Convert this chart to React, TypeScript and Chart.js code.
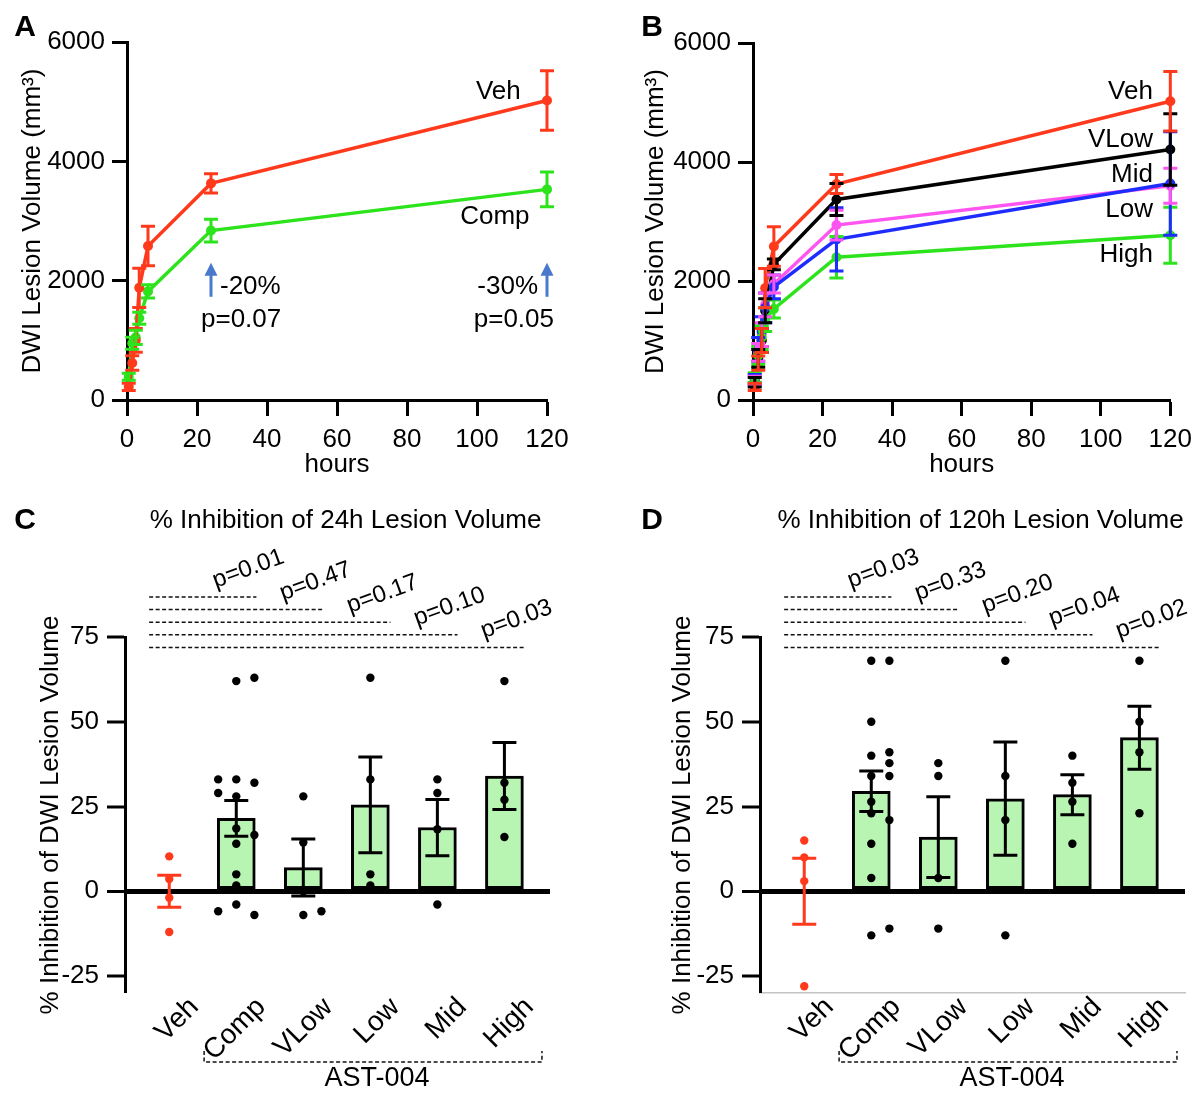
import React, { useEffect, useRef } from 'react';
import { Chart, registerables } from 'chart.js';

Chart.register(...registerables);

const FONT = "'Liberation Sans', Arial, Helvetica, sans-serif";

// ---------- Panels A / B : DWI lesion volume over time ----------
const hours = [0.5, 1.5, 2.5, 3.5, 6, 24, 120];
const vehVolume = [220, 620, 1000, 1880, 2580, 3630, 5020];
const vehSem = [60, 120, 200, 330, 330, 160, 500];
const compVolume = [390, 950, 1050, 1370, 1820, 2840, 3530];
const compSem = [60, 100, 120, 100, 110, 190, 290];
const vlowVolume = [300, 700, 1000, 1500, 2280, 3370, 4210];
const vlowSem = [80, 150, 200, 200, 90, 270, 600];
const midVolume = [320, 800, 1100, 1600, 1950, 2940, 3600];
const midSem = [80, 150, 200, 200, 150, 250, 295];
const lowVolume = [350, 850, 1150, 1550, 1900, 2700, 3640];
const lowSem = [80, 200, 250, 250, 200, 530, 870];
const highVolume = [380, 750, 1050, 1350, 1530, 2400, 2770];
const highSem = [80, 150, 200, 200, 150, 350, 470];

const hourTicks = [0, 20, 40, 60, 80, 100, 120];
const volumeTicks = [0, 2000, 4000, 6000];
const inhibitionTicks = [-25, 0, 25, 50, 75];

// ---------- Panels C / D : % inhibition ----------
const groups = ['Veh', 'Comp', 'VLow', 'Low', 'Mid', 'High'];
const inh24Mean = [0, 21.5, 7, 25.5, 18.8, 34];
const inh24Sem = [4.7, 5.3, 8.4, 14.1, 8.3, 9.9];
const inh24Points = [
  [10.3, 3.6, -1.9, -12],
  [62, 63, 33, 32, 33, 28, 29, 18.5, 16.6, 14, 5, 1.7, -3.9, -7, -5.9],
  [28, 14.4, 0, -7, -5.9],
  [63, 33, 5, 1.7],
  [33, 29, 18.3, -3.9],
  [62, 32, 27, 16],
];
const inh24P = ['p=0.01', 'p=0.47', 'p=0.17', 'p=0.10', 'p=0.03'];

const inh120Mean = [0, 29.5, 16, 27.3, 28.5, 45.3];
const inh120Sem = [9.75, 6, 11.9, 16.7, 5.9, 9.3];
const inh120Points = [
  [15, 10, 3, -28],
  [68, 68, 50, 40, 41, 37.8, 34, 34, 26.4, 23, 21, 14, 3.9, -13, -11],
  [37.8, 34, 3.9, -11],
  [68, 34, 21, -13],
  [40, 32, 26.4, 14],
  [68, 50, 41, 23],
];
const inh120P = ['p=0.03', 'p=0.33', 'p=0.20', 'p=0.04', 'p=0.02'];

// ---------- styles ----------
const RED = '#ff3a1c';
const GREEN = '#2ce31c';
const BLUE = '#1f2cff';
const MAGENTA = '#ff55f0';
const BLACK = '#000000';
const BAR_FILL = '#b9f5b2';
const ARROW = '#4a78cc';
const TXT = 26;

const font = (size: number, weight = 'normal') => ({ family: FONT, size, weight });

function fixWidth(w: number) {
  return (s: any) => {
    s.width = w;
  };
}
function fixHeight(h: number) {
  return (s: any) => {
    s.height = h;
  };
}
function setTicks(values: number[]) {
  return (s: any) => {
    s.ticks = values.map((v) => ({ value: v }));
  };
}
const plain = (v: any) => String(v);

function drawLetter(ctx: CanvasRenderingContext2D, letter: string, x: number, y: number) {
  ctx.save();
  ctx.fillStyle = '#000';
  ctx.font = `bold 30px ${FONT}`;
  ctx.textAlign = 'center';
  ctx.textBaseline = 'middle';
  ctx.fillText(letter, x, y);
  ctx.restore();
}

const lineErrorPlugin = {
  id: 'lineErrors',
  afterDatasetsDraw(chart: any) {
    const { ctx } = chart;
    const x = chart.scales.x;
    const y = chart.scales.y;
    chart.data.datasets.forEach((ds: any) => {
      if (!ds.errors) return;
      ctx.save();
      ctx.strokeStyle = ds.borderColor;
      ctx.lineWidth = 3;
      ds.data.forEach((p: any, i: number) => {
        const e = ds.errors[i];
        const px = x.getPixelForValue(p.x);
        const y1 = y.getPixelForValue(p.y + e);
        const y2 = y.getPixelForValue(p.y - e);
        ctx.beginPath();
        ctx.moveTo(px, y1);
        ctx.lineTo(px, y2);
        ctx.moveTo(px - 7, y1);
        ctx.lineTo(px + 7, y1);
        ctx.moveTo(px - 7, y2);
        ctx.lineTo(px + 7, y2);
        ctx.stroke();
      });
      ctx.restore();
    });
  },
};

function lineSeries(label: string, values: number[], errors: number[], color: string) {
  return {
    label,
    data: hours.map((h, i) => ({ x: h, y: values[i] })),
    errors,
    borderColor: color,
    backgroundColor: color,
    borderWidth: 3.5,
    pointRadius: 5,
    pointBorderWidth: 0,
    clip: false,
  };
}

function lineOptions(area: { left: number; top: number; right: number; bottom: number; w: number; h: number; titlePad: number }) {
  return {
    responsive: true,
    maintainAspectRatio: false,
    animation: false,
    events: [],
    layout: { padding: { left: 0, top: area.top, right: area.w - area.right, bottom: 0 } },
    plugins: { legend: { display: false }, tooltip: { enabled: false } },
    scales: {
      x: {
        type: 'linear',
        min: 0,
        max: 120,
        afterBuildTicks: setTicks(hourTicks),
        afterFit: fixHeight(area.h - area.bottom),
        border: { display: true, width: 3, color: '#000' },
        grid: { display: true, drawOnChartArea: false, drawTicks: true, tickLength: 16, tickWidth: 3, tickColor: '#000' },
        ticks: { color: '#000', font: font(TXT), padding: 8, maxRotation: 0, autoSkip: false, callback: plain },
        title: { display: true, text: 'hours', color: '#000', font: font(TXT), padding: { top: 0, bottom: 0 } },
      },
      y: {
        type: 'linear',
        min: 0,
        max: 6000,
        afterBuildTicks: setTicks(volumeTicks),
        afterFit: fixWidth(area.left),
        border: { display: true, width: 3, color: '#000' },
        grid: { display: true, drawOnChartArea: false, drawTicks: true, tickLength: 15, tickWidth: 3, tickColor: '#000' },
        ticks: { color: '#000', font: font(TXT), padding: 7, autoSkip: false, callback: plain },
        title: {
          display: true,
          text: 'DWI Lesion Volume (mm\u00B3)',
          color: '#000',
          font: font(TXT),
          padding: { top: area.titlePad, bottom: 0 },
        },
      },
    },
  };
}

function configA() {
  const annotate = {
    id: 'annotA',
    afterDraw(chart: any) {
      const { ctx } = chart;
      const x = chart.scales.x;
      const y = chart.scales.y;
      ctx.save();
      ctx.fillStyle = '#000';
      ctx.font = `${TXT}px ${FONT}`;
      ctx.textBaseline = 'middle';
      ctx.textAlign = 'right';
      ctx.fillText('Veh', x.getPixelForValue(112.5), y.getPixelForValue(5160));
      ctx.fillText('Comp', x.getPixelForValue(115), y.getPixelForValue(3070));
      const arrows = [
        { h: 24, pct: '-20%', p: 'p=0.07', side: 'right' },
        { h: 120, pct: '-30%', p: 'p=0.05', side: 'left' },
      ];
      arrows.forEach((a) => {
        const ax = x.getPixelForValue(a.h);
        const yb = y.getPixelForValue(1730);
        const yt = y.getPixelForValue(2300);
        ctx.strokeStyle = ARROW;
        ctx.fillStyle = ARROW;
        ctx.lineWidth = 3;
        ctx.beginPath();
        ctx.moveTo(ax, yb);
        ctx.lineTo(ax, yt + 10);
        ctx.stroke();
        ctx.beginPath();
        ctx.moveTo(ax, yt);
        ctx.lineTo(ax - 6.5, yt + 13);
        ctx.lineTo(ax + 6.5, yt + 13);
        ctx.closePath();
        ctx.fill();
        ctx.fillStyle = '#000';
        if (a.side === 'right') {
          ctx.textAlign = 'left';
          ctx.fillText(a.pct, ax + 9, y.getPixelForValue(1900));
          ctx.fillText(a.p, ax - 10, y.getPixelForValue(1340));
        } else {
          ctx.textAlign = 'right';
          ctx.fillText(a.pct, ax - 9, y.getPixelForValue(1900));
          ctx.fillText(a.p, ax + 7, y.getPixelForValue(1340));
        }
      });
      ctx.restore();
      drawLetter(ctx, 'A', 25, 28);
    },
  };
  return {
    type: 'line',
    data: {
      datasets: [lineSeries('Veh', vehVolume, vehSem, RED), lineSeries('Comp', compVolume, compSem, GREEN)],
    },
    options: lineOptions({ left: 127, top: 42, right: 547, bottom: 400, w: 600, h: 480, titlePad: 17 }),
    plugins: [lineErrorPlugin, annotate],
  };
}

function configB() {
  const labels = [
    { t: 'Veh', v: 5180 },
    { t: 'VLow', v: 4370 },
    { t: 'Mid', v: 3780 },
    { t: 'Low', v: 3190 },
    { t: 'High', v: 2440 },
  ];
  const annotate = {
    id: 'annotB',
    afterDraw(chart: any) {
      const { ctx } = chart;
      const x = chart.scales.x;
      const y = chart.scales.y;
      ctx.save();
      ctx.fillStyle = '#000';
      ctx.font = `${TXT}px ${FONT}`;
      ctx.textBaseline = 'middle';
      ctx.textAlign = 'right';
      labels.forEach((l) => ctx.fillText(l.t, x.getPixelForValue(115), y.getPixelForValue(l.v)));
      ctx.restore();
      drawLetter(ctx, 'B', 52, 28);
    },
  };
  return {
    type: 'line',
    data: {
      datasets: [
        lineSeries('High', highVolume, highSem, GREEN),
        lineSeries('Low', lowVolume, lowSem, BLUE),
        lineSeries('Mid', midVolume, midSem, MAGENTA),
        lineSeries('VLow', vlowVolume, vlowSem, BLACK),
        lineSeries('Veh', vehVolume, vehSem, RED),
      ],
    },
    options: lineOptions({ left: 153, top: 43, right: 575, bottom: 400, w: 600, h: 480, titlePad: 40 }),
    plugins: [lineErrorPlugin, annotate],
  };
}

// simple beeswarm: assign each point to the first free column
function swarmColumns(vals: number[], gap: number): number[] {
  const cols: number[] = [];
  const order = [0, 1, -1, 2, -2];
  vals.forEach((v, k) => {
    let chosen = 0;
    for (const c of order) {
      const clash = vals.slice(0, k).some((w, j) => cols[j] === c && Math.abs(w - v) < gap);
      if (!clash) {
        chosen = c;
        break;
      }
    }
    cols.push(chosen);
  });
  return cols;
}

function inhibitionConfig(o: {
  means: number[];
  sems: number[];
  points: number[][];
  pvals: string[];
  title: string;
  letter: string;
  letterX: number;
  areaLeft: number;
  areaRight: number;
  titlePad: number;
  grayBase: boolean;
}) {
  const W = 600;
  const H = 613;
  const TOP = 157;
  const BOTTOM = 513;
  const colStep = 0.27;
  const vehPts: any[] = [];
  const drugPts: any[] = [];
  o.points.forEach((vals, i) => {
    const cols = swarmColumns(vals, 3.2);
    vals.forEach((v, k) => {
      const pt = { x: i + cols[k] * colStep, y: v };
      if (i === 0) vehPts.push(pt);
      else drugPts.push(pt);
    });
  });

  const annotate = {
    id: 'annotInh',
    afterDatasetsDraw(chart: any) {
      const { ctx } = chart;
      const x = chart.scales.x;
      const y = chart.scales.y;
      ctx.save();
      ctx.lineWidth = 3;
      groups.forEach((g, i) => {
        const color = i === 0 ? RED : '#000';
        const px = x.getPixelForValue(i);
        const y1 = y.getPixelForValue(o.means[i] + o.sems[i]);
        const y2 = y.getPixelForValue(o.means[i] - o.sems[i]);
        ctx.strokeStyle = color;
        ctx.beginPath();
        ctx.moveTo(px, y1);
        ctx.lineTo(px, y2);
        ctx.moveTo(px - 12, y1);
        ctx.lineTo(px + 12, y1);
        ctx.moveTo(px - 12, y2);
        ctx.lineTo(px + 12, y2);
        ctx.stroke();
      });
      ctx.restore();
    },
    afterDraw(chart: any) {
      const { ctx, chartArea } = chart;
      const x = chart.scales.x;
      ctx.save();
      ctx.fillStyle = '#000';
      ctx.strokeStyle = '#111';
      ctx.font = `${TXT}px ${FONT}`;
      ctx.textAlign = 'center';
      ctx.textBaseline = 'middle';
      ctx.fillText(o.title, (chartArea.left + chartArea.right) / 2 + 8, 41);
      o.pvals.forEach((p, k) => {
        const yy = chartArea.top - 40 + 12.6 * k;
        const x0 = x.getPixelForValue(-0.3);
        const x1 = x.getPixelForValue(k + 1 + 0.3);
        ctx.lineWidth = 1.5;
        ctx.setLineDash([4, 2.5]);
        ctx.beginPath();
        ctx.moveTo(x0, yy);
        ctx.lineTo(x1, yy);
        ctx.stroke();
        ctx.setLineDash([]);
        ctx.save();
        ctx.translate(x1 - 8, yy - 28);
        ctx.rotate((-20 * Math.PI) / 180);
        ctx.font = `24px ${FONT}`;
        ctx.textAlign = 'center';
        ctx.textBaseline = 'middle';
        ctx.fillText(p, 0, 0);
        ctx.restore();
      });
      const by = chartArea.bottom + 69;
      const bx0 = x.getPixelForValue(0.52);
      const bx1 = x.getPixelForValue(5.56);
      ctx.lineWidth = 1.5;
      ctx.setLineDash([4, 2.5]);
      ctx.beginPath();
      ctx.moveTo(bx0, by - 11);
      ctx.lineTo(bx0, by);
      ctx.lineTo(bx1, by);
      ctx.lineTo(bx1, by - 11);
      ctx.stroke();
      ctx.setLineDash([]);
      ctx.font = `27px ${FONT}`;
      ctx.textAlign = 'center';
      ctx.textBaseline = 'middle';
      ctx.fillText('AST-004', x.getPixelForValue(3.1), chartArea.bottom + 86);
      ctx.restore();
      drawLetter(ctx, o.letter, o.letterX, 41);
    },
  };

  return {
    type: 'bar',
    data: {
      datasets: [
        {
          type: 'bar',
          data: groups.map((g, i) => ({ x: i, y: i === 0 ? null : o.means[i] })),
          backgroundColor: BAR_FILL,
          borderColor: '#000',
          borderWidth: 3,
          borderSkipped: false,
          barThickness: 38,
          order: 3,
        },
        {
          type: 'scatter',
          data: drugPts,
          backgroundColor: '#000',
          pointRadius: 4.2,
          pointBorderWidth: 0,
          clip: false,
          order: 2,
        },
        {
          type: 'scatter',
          data: vehPts,
          backgroundColor: RED,
          pointRadius: 4.2,
          pointBorderWidth: 0,
          clip: false,
          order: 1,
        },
      ],
    },
    options: {
      responsive: true,
      maintainAspectRatio: false,
      animation: false,
      events: [],
      layout: { padding: { left: 0, top: TOP, right: W - o.areaRight, bottom: 0 } },
      plugins: { legend: { display: false }, tooltip: { enabled: false } },
      scales: {
        x: {
          type: 'linear',
          min: -0.66,
          max: 5.68,
          offset: false,
          afterBuildTicks: setTicks(groups.map((g, i) => i)),
          afterFit: fixHeight(H - BOTTOM),
          border: { display: o.grayBase, width: 1.5, color: '#c4c4c4' },
          grid: { display: false },
          ticks: {
            color: '#000',
            font: font(28),
            padding: -10,
            minRotation: 45,
            maxRotation: 45,
            labelOffset: 25,
            autoSkip: false,
            callback: (v: any) => groups[Math.round(v)] ?? '',
          },
        },
        y: {
          type: 'linear',
          min: -30,
          max: 75,
          afterBuildTicks: setTicks(inhibitionTicks),
          afterFit: fixWidth(o.areaLeft),
          border: { display: true, width: 3, color: '#000' },
          grid: {
            display: true,
            drawOnChartArea: true,
            drawTicks: true,
            tickLength: 18,
            tickWidth: 3,
            tickColor: '#000',
            color: (c: any) => (c.tick && c.tick.value === 0 ? '#000' : 'rgba(0,0,0,0)'),
            lineWidth: (c: any) => (c.tick && c.tick.value === 0 ? 5 : 0),
          },
          ticks: { color: '#000', font: font(TXT), padding: 8, autoSkip: false, callback: plain },
          title: {
            display: true,
            text: '% Inhibition of DWI Lesion Volume',
            color: '#000',
            font: font(TXT),
            padding: { top: o.titlePad, bottom: 0 },
          },
        },
      },
    },
    plugins: [annotate],
  };
}

function configC() {
  return inhibitionConfig({
    means: inh24Mean,
    sems: inh24Sem,
    points: inh24Points,
    pvals: inh24P,
    title: '% Inhibition of 24h Lesion Volume',
    letter: 'C',
    letterX: 25,
    areaLeft: 125,
    areaRight: 550,
    titlePad: 35,
    grayBase: false,
  });
}

function configD() {
  return inhibitionConfig({
    means: inh120Mean,
    sems: inh120Sem,
    points: inh120Points,
    pvals: inh120P,
    title: '% Inhibition of 120h Lesion Volume',
    letter: 'D',
    letterX: 52,
    areaLeft: 160,
    areaRight: 585,
    titlePad: 67,
    grayBase: true,
  });
}

function Panel(props: { make: () => any; left: number; top: number; width: number; height: number }) {
  const ref = useRef<HTMLCanvasElement | null>(null);
  useEffect(() => {
    if (!ref.current) return;
    const chart = new Chart(ref.current, props.make());
    return () => chart.destroy();
  }, []);
  return (
    <div style={{ position: 'absolute', left: props.left, top: props.top, width: props.width, height: props.height }}>
      <canvas ref={ref} />
    </div>
  );
}

export default function App() {
  return (
    <div style={{ position: 'absolute', left: 0, top: 0, width: 1200, height: 1093, background: '#fff', overflow: 'hidden' }}>
      <Panel make={configA} left={0} top={0} width={600} height={480} />
      <Panel make={configB} left={600} top={0} width={600} height={480} />
      <Panel make={configC} left={0} top={480} width={600} height={613} />
      <Panel make={configD} left={600} top={480} width={600} height={613} />
    </div>
  );
}
